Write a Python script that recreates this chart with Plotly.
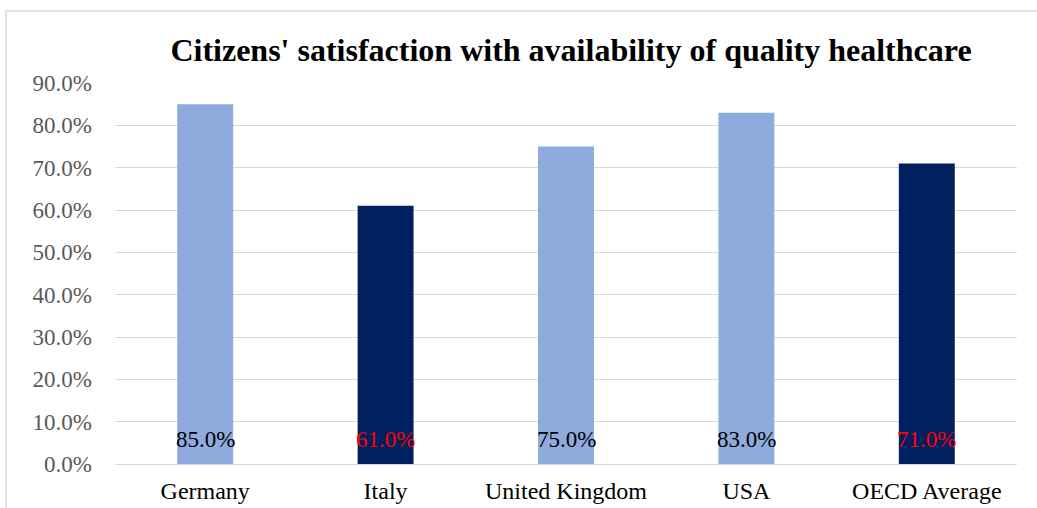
import plotly.graph_objects as go

# Survey results: share of citizens satisfied with healthcare availability
countries = ["Germany", "Italy", "United Kingdom", "USA", "OECD Average"]
satisfaction = [85.0, 61.0, 75.0, 83.0, 71.0]
bar_colors = ["#8FAADC", "#002060", "#8FAADC", "#8FAADC", "#002060"]
label_colors = ["#000000", "#FF0000", "#000000", "#000000", "#FF0000"]
y_ticks = [0, 10, 20, 30, 40, 50, 60, 70, 80, 90]
y_tick_text = [f"{t:.1f}%" for t in y_ticks]

W, H = 1037, 508
ml, mr, mt, mb = 115, 20, 83, 44
FONT = "Liberation Serif, Times New Roman, serif"

fig = go.Figure(
    go.Bar(
        x=countries,
        y=satisfaction,
        marker=dict(color=bar_colors, line=dict(width=0)),
        width=0.31,
        hoverinfo="x+y",
    )
)

# Value labels sit at the foot of each bar
for c, v, col in zip(countries, satisfaction, label_colors):
    fig.add_annotation(
        x=c, y=0, yref="y", xref="x",
        text=f"{v:.1f}%", showarrow=False,
        yanchor="bottom", yshift=10,
        font=dict(family=FONT, size=23, color=col),
    )

# Chart frame (left and top edges visible, the rest runs off the page)
pw, ph = W - ml - mr, H - mt - mb
fig.add_shape(
    type="rect", xref="paper", yref="paper",
    x0=(6 - ml) / pw, x1=1.3,
    y0=-0.6, y1=(H - 11 - mb) / ph,
    line=dict(color="#D9D9D9", width=1.5), fillcolor="rgba(0,0,0,0)",
    layer="below",
)

fig.update_layout(
    width=W, height=H,
    margin=dict(l=ml, r=mr, t=mt, b=mb, autoexpand=False),
    paper_bgcolor="white", plot_bgcolor="white",
    title=dict(
        text="<b>Citizens' satisfaction with availability of quality healthcare</b>",
        x=571 / W, xanchor="center", y=1 - 50 / H, yanchor="middle",
        font=dict(family=FONT, size=32, color="#000000"),
    ),
    font=dict(family=FONT),
    showlegend=False,
    bargap=0.69,
    xaxis=dict(
        showgrid=False, showline=False, zeroline=False, automargin=False,
        ticks="", tickfont=dict(family=FONT, size=24, color="#000000"),
        ticklabelstandoff=10,
    ),
    yaxis=dict(
        range=[0, 90], tickvals=y_ticks, ticktext=y_tick_text, automargin=False,
        showgrid=True, gridcolor="#D9D9D9", gridwidth=1.3,
        zeroline=True, zerolinecolor="#D9D9D9", zerolinewidth=1.3,
        showline=False, ticks="",
        tickfont=dict(family=FONT, size=23, color="#595959"),
        ticklabelstandoff=22,
    ),
)

fig.write_html("out.html")
